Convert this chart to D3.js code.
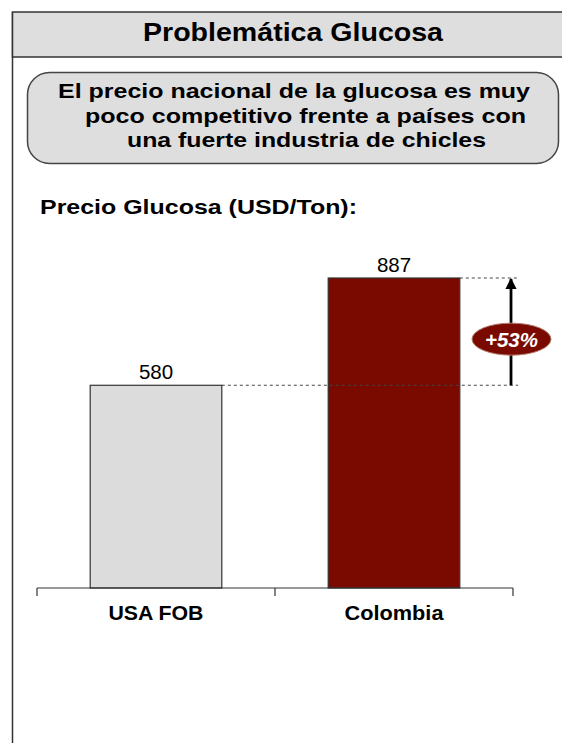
<!DOCTYPE html>
<html><head><meta charset="utf-8">
<script src="https://cdn.jsdelivr.net/npm/d3@7"></script>
<style>html,body{margin:0;padding:0;background:#fff;}svg{display:block;}</style>
</head><body>
<script>
const categories = ["USA FOB", "Colombia"];
const values = [580, 887];
const barColors = ["#dcdcdc", "#7a0900"];
const valueLabels = ["580", "887"];
const changeLabel = "+53%";
const title = "Problemática Glucosa";
const boxLines = ["El precio nacional de la glucosa es muy", "poco competitivo frente a países con", "una fuerte industria de chicles"];
const subtitle = "Precio Glucosa (USD/Ton):";

const W = 562, H = 743;
const font = "Liberation Sans, Arial, Helvetica, sans-serif";
const svg = d3.select("body").append("svg").attr("width", W).attr("height", H);

function boldText(xPos, yPos, txt, size, len, anchor) {
  return svg.append("text").attr("x", xPos).attr("y", yPos).attr("text-anchor", anchor || "start")
    .attr("font-family", font).attr("font-weight", "bold").attr("font-size", size).attr("fill", "#000")
    .attr("textLength", len).attr("lengthAdjust", "spacingAndGlyphs").text(txt);
}

// frame
svg.append("line").attr("x1", 12.5).attr("x2", 12.5).attr("y1", 12).attr("y2", H).attr("stroke", "#333").attr("stroke-width", 1.5);
svg.append("rect").attr("x", 12.5).attr("y", 12).attr("width", W).attr("height", 45)
  .attr("fill", "#dedede").attr("stroke", "#333").attr("stroke-width", 1.5);
boldText(143, 41, title, 26.5, 300);

// rounded box
svg.append("rect").attr("x", 27.5).attr("y", 72.5).attr("width", 531).attr("height", 91).attr("rx", 22).attr("ry", 22)
  .attr("fill", "#dedede").attr("stroke", "#444").attr("stroke-width", 1.5);
const lineX = [58, 85, 127];
const lineLen = [472, 441, 359];
boxLines.forEach((t, i) => boldText(lineX[i], 98 + i * 24.5, t, 21, lineLen[i]));

boldText(40, 214, subtitle, 20.5, 317);

// scales
const x = d3.scaleBand().domain(categories).range([37, 513]).padding(0);
const y = d3.scaleLinear().domain([0, 1000]).range([588, 238.5]);
const barW = x.bandwidth() * 0.553;
const bx = c => x(c) + (x.bandwidth() - barW) / 2;

// bars
svg.selectAll("rect.bar").data(categories).join("rect").attr("class", "bar")
  .attr("x", d => bx(d)).attr("y", (d, i) => y(values[i]))
  .attr("width", barW).attr("height", (d, i) => y(0) - y(values[i]))
  .attr("fill", (d, i) => barColors[i]).attr("stroke", "#333").attr("stroke-width", 1.2);

svg.selectAll("text.val").data(categories).join("text").attr("class", "val")
  .attr("x", d => x(d) + x.bandwidth() / 2).attr("y", (d, i) => y(values[i]) - 6)
  .attr("text-anchor", "middle").attr("font-family", font).attr("font-size", 20.5).attr("fill", "#000")
  .text((d, i) => valueLabels[i]);

// axis
const axisY = y(0);
svg.append("line").attr("x1", 37).attr("x2", 513).attr("y1", axisY).attr("y2", axisY).attr("stroke", "#333").attr("stroke-width", 1.2);
const tickXs = categories.map(c => x(c)).concat([x(categories[categories.length - 1]) + x.bandwidth()]);
svg.selectAll("line.tick").data(tickXs).join("line").attr("class", "tick")
  .attr("x1", d => d).attr("x2", d => d).attr("y1", axisY).attr("y2", axisY + 8).attr("stroke", "#333").attr("stroke-width", 1.2);
const catLen = [95, 99];
categories.forEach((c, i) => boldText(x(c) + x.bandwidth() / 2, axisY + 31.5, c, 20, catLen[i], "middle"));

// dashed reference lines from each bar's right edge
const arrowX = 511;
svg.selectAll("line.ref").data(categories).join("line").attr("class", "ref")
  .attr("x1", d => bx(d) + barW).attr("x2", 518)
  .attr("y1", (d, i) => y(values[i])).attr("y2", (d, i) => y(values[i]))
  .attr("stroke", "#444").attr("stroke-width", 1.1).attr("stroke-dasharray", "3,3");

// arrow
svg.append("defs").append("marker").attr("id", "ah").attr("viewBox", "0 0 10 10").attr("refX", 9).attr("refY", 5)
  .attr("markerWidth", 4).attr("markerHeight", 4).attr("orient", "auto")
  .append("path").attr("d", "M0,0 L10,5 L0,10 z").attr("fill", "#000");
svg.append("line").attr("x1", arrowX).attr("x2", arrowX).attr("y1", y(values[0])).attr("y2", y(values[1]) + 1)
  .attr("stroke", "#000").attr("stroke-width", 2.8).attr("marker-end", "url(#ah)");

// badge (sits a little below the arrow's midpoint)
const badgeY = y(values[0]) - (y(values[0]) - y(values[1])) * 0.43;
svg.append("ellipse").attr("cx", arrowX + 0.5).attr("cy", badgeY).attr("rx", 39.5).attr("ry", 16)
  .attr("fill", "#7a0900").attr("stroke", "#b08070").attr("stroke-width", 1);
svg.append("text").attr("x", arrowX + 0.5).attr("y", badgeY + 7.5).attr("text-anchor", "middle")
  .attr("font-family", font).attr("font-weight", "bold").attr("font-style", "italic").attr("font-size", 20)
  .attr("textLength", 53).attr("lengthAdjust", "spacingAndGlyphs")
  .attr("fill", "#fff").text(changeLabel);
</script>
</body></html>
